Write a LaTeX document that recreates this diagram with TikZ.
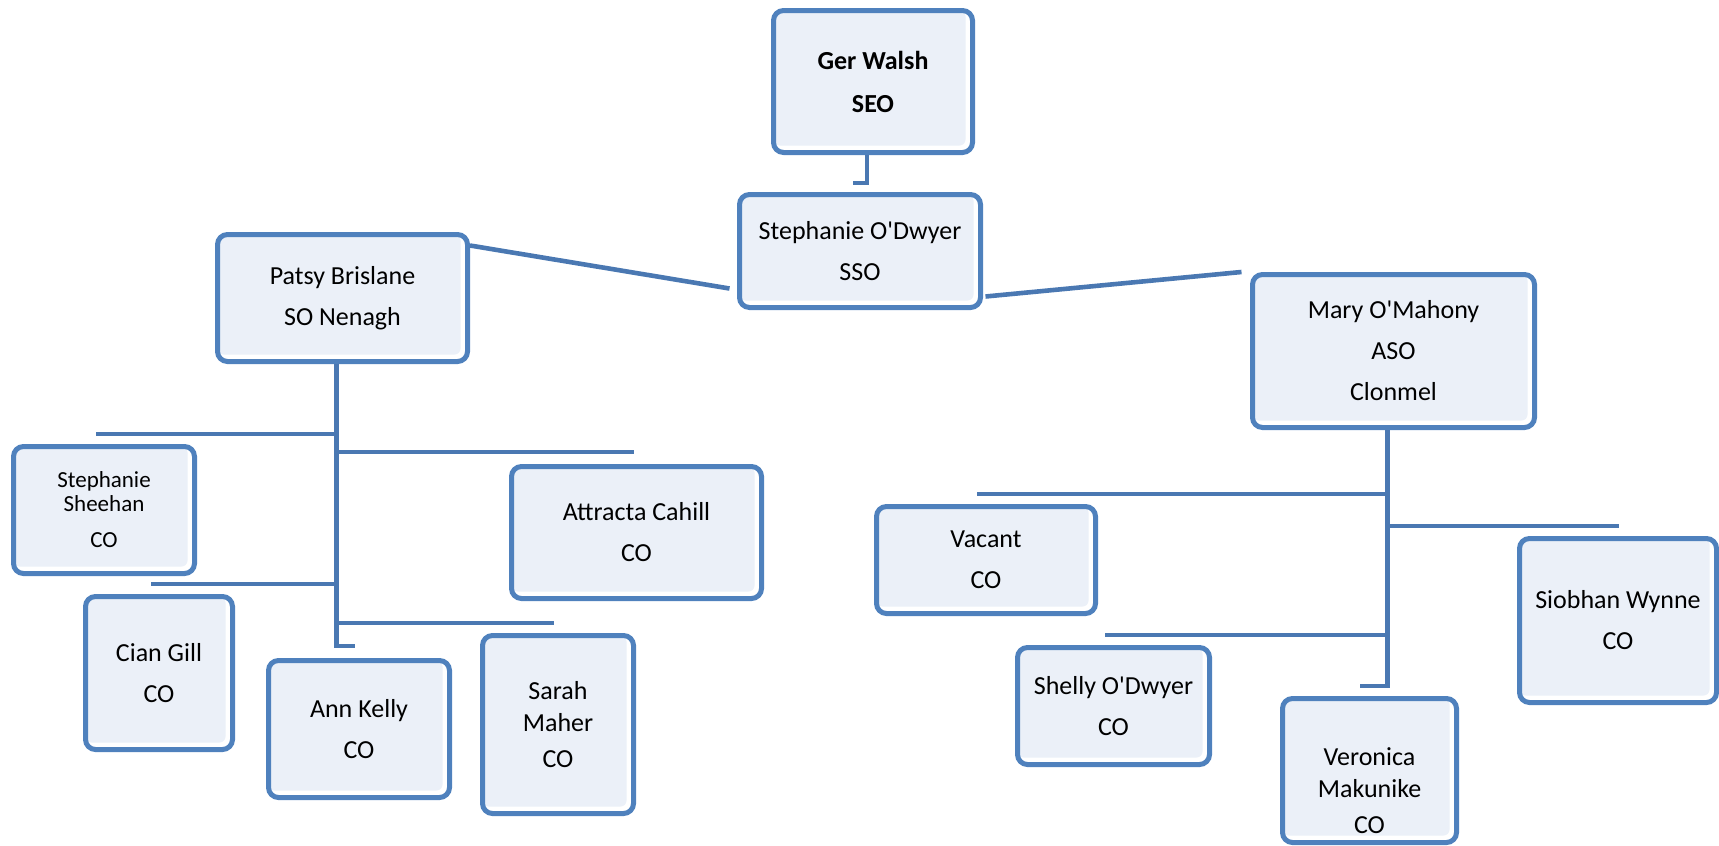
\documentclass[tikz,border=0pt]{standalone}
\usepackage{fontspec}
\setmainfont{Carlito}
\usetikzlibrary{calc}

\definecolor{boxblue}{HTML}{4F81BD}
\definecolor{linkblue}{HTML}{4A78B2}
\definecolor{boxfill}{HTML}{EBF0F8}

\begin{document}
\begin{tikzpicture}[
    x=0.5pt, y=-0.5pt,
    every node/.style={font=\fontsize{13}{16}\selectfont},
    staff/.style={draw=boxblue, line width=2.5pt, rounded corners=5pt, fill=white, align=center, inner sep=0pt,
        path picture={\fill[boxfill, rounded corners=3pt] (path picture bounding box.north west)
            rectangle ([shift={(-3.5pt,3.5pt)}]path picture bounding box.south east);}},
    conn/.style={draw=linkblue, line width=2.3pt}
]
\useasboundingbox (0,0) rectangle (1719,846);

% Top: SEO and SSO
\node[staff, minimum width=99.5pt, minimum height=71pt, font=\fontsize{13}{16}\bfseries] (ger) at (873,81.5) {Ger Walsh\\[5.5pt]SEO};
\node[staff, minimum width=120.5pt, minimum height=56.5pt] (sso) at (860,251) {Stephanie O\textquotesingle Dwyer\\[4.5pt]SSO};

% Second row
\node[staff, minimum width=125pt, minimum height=63.5pt] (patsy) at (342.5,298) {Patsy Brislane\\[4.5pt]SO Nenagh};
\node[staff, minimum width=141pt, minimum height=76.5pt] (mary) at (1393.5,351) {Mary O\textquotesingle Mahony\\[4.5pt]ASO\\[4.5pt]Clonmel};

% Nenagh COs
\node[staff, minimum width=90.5pt, minimum height=63.5pt, font=\fontsize{11.5}{12}\selectfont] (sheehan) at (104,510) {Stephanie\\Sheehan\\[6pt]CO};
\node[staff, minimum width=125pt, minimum height=66pt] (attracta) at (636.5,532.5) {Attracta Cahill\\[4.5pt]CO};
\node[staff, minimum width=73.5pt, minimum height=76.5pt] (cian) at (159,673) {Cian Gill\\[4.5pt]CO};
\node[staff, minimum width=90.5pt, minimum height=68.5pt] (ann) at (359,729) {Ann Kelly\\[4.5pt]CO};
\node[staff, minimum width=75.5pt, minimum height=89pt] (sarah) at (558,724.5) {Sarah\\Maher\\[2pt]CO};

% Clonmel COs
\node[staff, minimum width=109.5pt, minimum height=53.5pt] (vacant) at (986,560) {Vacant\\[4.5pt]CO};
\node[staff, minimum width=98.5pt, minimum height=82pt] (siobhan) at (1618,620.5) {Siobhan Wynne\\[4.5pt]CO};
\node[staff, minimum width=96pt, minimum height=58.5pt] (shelly) at (1113.5,706) {Shelly O\textquotesingle Dwyer\\[4.5pt]CO};
\node[staff, minimum width=87pt, minimum height=72pt] (veronica) at (1369.5,770.5) {\rule{0pt}{29pt}Veronica\\Makunike\\[2pt]CO};

% Links at the top
\coordinate (gerend) at (853,183);
\draw[conn] ([xshift=-3pt]ger.south) |- (gerend);
\draw[conn] ([yshift=-6.75pt]patsy.north east) -- ([shift={(-3.75pt,10.75pt)}]sso.south west);
\draw[conn] ([shift={(1.25pt,6.75pt)}]sso.south east) -- ([xshift=-4.25pt]mary.north west);

% Nenagh branches
\coordinate (ptrunk) at ([xshift=-3pt]patsy.south);
\coordinate (sheehanend) at (96,434);
\coordinate (attractaend) at (634,452);
\coordinate (cianend) at (151,584);
\coordinate (sarahend) at (554,623);
\coordinate (annend) at (355,646);
\foreach \e in {sheehanend, attractaend, cianend, sarahend, annend}
    \draw[conn] (ptrunk) |- (\e);

% Clonmel branches
\coordinate (mtrunk) at ([xshift=-3pt]mary.south);
\coordinate (vacantend) at (977,494);
\coordinate (siobhanend) at (1619,526);
\coordinate (shellyend) at (1105,635);
\coordinate (veronicaend) at (1360,686);
\foreach \e in {vacantend, siobhanend, shellyend, veronicaend}
    \draw[conn] (mtrunk) |- (\e);

\end{tikzpicture}
\end{document}
